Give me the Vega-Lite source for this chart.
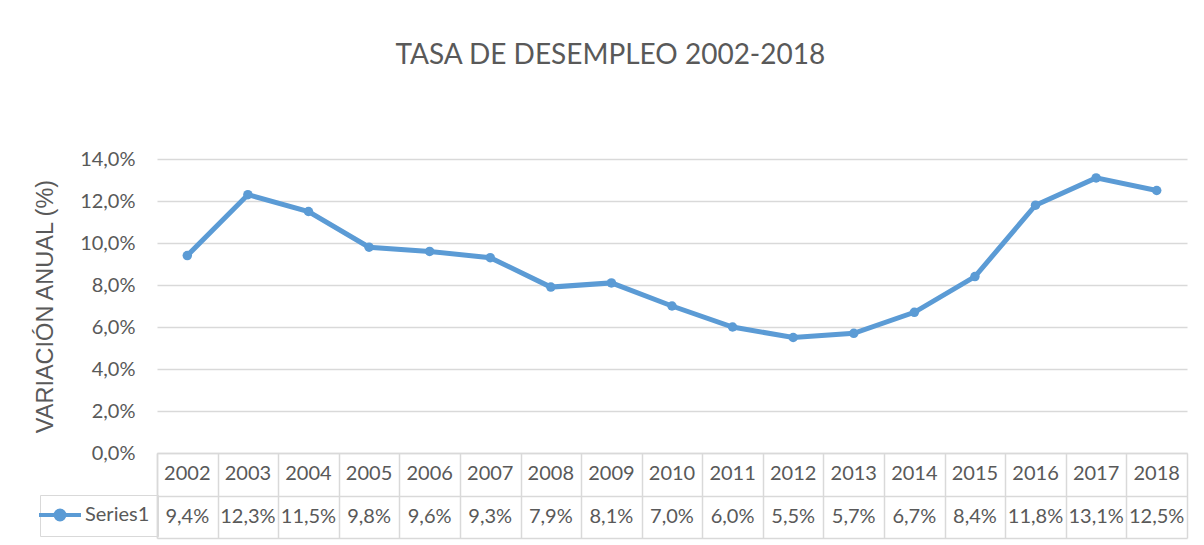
{
  "$schema": "https://vega.github.io/schema/vega-lite/v6.json",
  "background": "white",
  "padding": {"left": 33, "top": 42, "right": 17, "bottom": 7},
  "spacing": 0,
  "bounds": "flush",
  "title": {
    "text": "TASA DE DESEMPLEO 2002-2018",
    "font": "Lato",
    "fontSize": 28,
    "fontWeight": "normal",
    "color": "#595959",
    "anchor": "middle",
    "frame": "bounds",
    "offset": 79
  },
  "datasets": {
    "d": [
      {"year": "2002", "value": 0.094, "serie": "Series1"},
      {"year": "2003", "value": 0.123, "serie": "Series1"},
      {"year": "2004", "value": 0.115, "serie": "Series1"},
      {"year": "2005", "value": 0.098, "serie": "Series1"},
      {"year": "2006", "value": 0.096, "serie": "Series1"},
      {"year": "2007", "value": 0.093, "serie": "Series1"},
      {"year": "2008", "value": 0.079, "serie": "Series1"},
      {"year": "2009", "value": 0.081, "serie": "Series1"},
      {"year": "2010", "value": 0.070, "serie": "Series1"},
      {"year": "2011", "value": 0.060, "serie": "Series1"},
      {"year": "2012", "value": 0.055, "serie": "Series1"},
      {"year": "2013", "value": 0.057, "serie": "Series1"},
      {"year": "2014", "value": 0.067, "serie": "Series1"},
      {"year": "2015", "value": 0.084, "serie": "Series1"},
      {"year": "2016", "value": 0.118, "serie": "Series1"},
      {"year": "2017", "value": 0.131, "serie": "Series1"},
      {"year": "2018", "value": 0.125, "serie": "Series1"}
    ]
  },
  "vconcat": [
    {
      "width": 1030,
      "height": 294,
      "data": {"name": "d"},
      "mark": {"type": "line", "strokeWidth": 5, "point": {"filled": true, "size": 90}},
      "encoding": {
        "x": {
          "field": "year", "type": "ordinal",
          "scale": {"type": "point", "padding": 0.5},
          "axis": null
        },
        "y": {
          "field": "value", "type": "quantitative",
          "scale": {"domain": [0, 0.14], "nice": false},
          "axis": {
            "values": [0, 0.02, 0.04, 0.06, 0.08, 0.1, 0.12, 0.14],
            "format": ".1%",
            "title": "VARIACIÓN ANUAL (%)",
            "titleFont": "Liberation Sans",
            "titleFontSize": 23.5,
            "titleFontWeight": "normal",
            "titleColor": "#595959",
            "titlePadding": 22,
            "labelFont": "Lato",
            "labelFontSize": 20,
            "labelColor": "#595959",
            "labelPadding": 22,
            "ticks": false,
            "domain": false,
            "grid": true,
            "gridColor": "#D9D9D9",
            "gridWidth": 1.5
          }
        },
        "color": {
          "field": "serie", "type": "nominal",
          "scale": {"range": ["#5B9BD5"]},
          "legend": {
            "orient": "none",
            "legendX": -117,
            "legendY": 336,
            "title": null,
            "symbolType": "M-2.1,0H2.1M0.45,0A0.45,0.45,0,1,1,-0.45,0A0.45,0.45,0,1,1,0.45,0Z",
            "symbolSize": 400,
            "symbolStrokeWidth": 4,
            "symbolFillColor": "#5B9BD5",
            "symbolStrokeColor": "#5B9BD5",
            "labelFont": "Lato",
            "labelFontSize": 20,
            "labelColor": "#595959",
            "labelOffset": 13,
            "strokeColor": "#D9D9D9",
            "padding": 8
          }
        }
      }
    },
    {
      "width": 1030,
      "height": 85,
      "data": {"name": "d"},
      "encoding": {
        "x": {
          "field": "year", "type": "ordinal",
          "scale": {"type": "band", "paddingInner": 0, "paddingOuter": 0},
          "axis": {
            "labels": false, "ticks": false, "domain": false, "title": null,
            "grid": true, "tickBand": "extent", "gridColor": "#D9D9D9", "gridWidth": 1.5
          }
        }
      },
      "layer": [
        {
          "mark": {"type": "text", "font": "Lato", "fontSize": 20, "color": "#595959"},
          "encoding": {
            "y": {
              "datum": "year", "type": "ordinal",
              "scale": {"domain": ["year", "value"], "type": "band", "paddingInner": 0, "paddingOuter": 0},
              "axis": {
                "labels": false, "title": null, "ticks": false,
                "domain": true, "domainColor": "#D9D9D9", "domainWidth": 1.5,
                "grid": true, "gridColor": "#D9D9D9", "gridWidth": 1.5,
                "tickBand": "extent"
              }
            },
            "text": {"field": "year"}
          }
        },
        {
          "mark": {"type": "text", "font": "Lato", "fontSize": 20, "color": "#595959"},
          "encoding": {
            "y": {"datum": "value", "type": "ordinal"},
            "text": {"field": "value", "type": "quantitative", "format": ".1%"}
          }
        }
      ]
    }
  ],
  "config": {
    "locale": {"number": {"decimal": ",", "thousands": ".", "grouping": [3], "currency": ["", " €"]}},
    "view": {"stroke": null}
  }
}
